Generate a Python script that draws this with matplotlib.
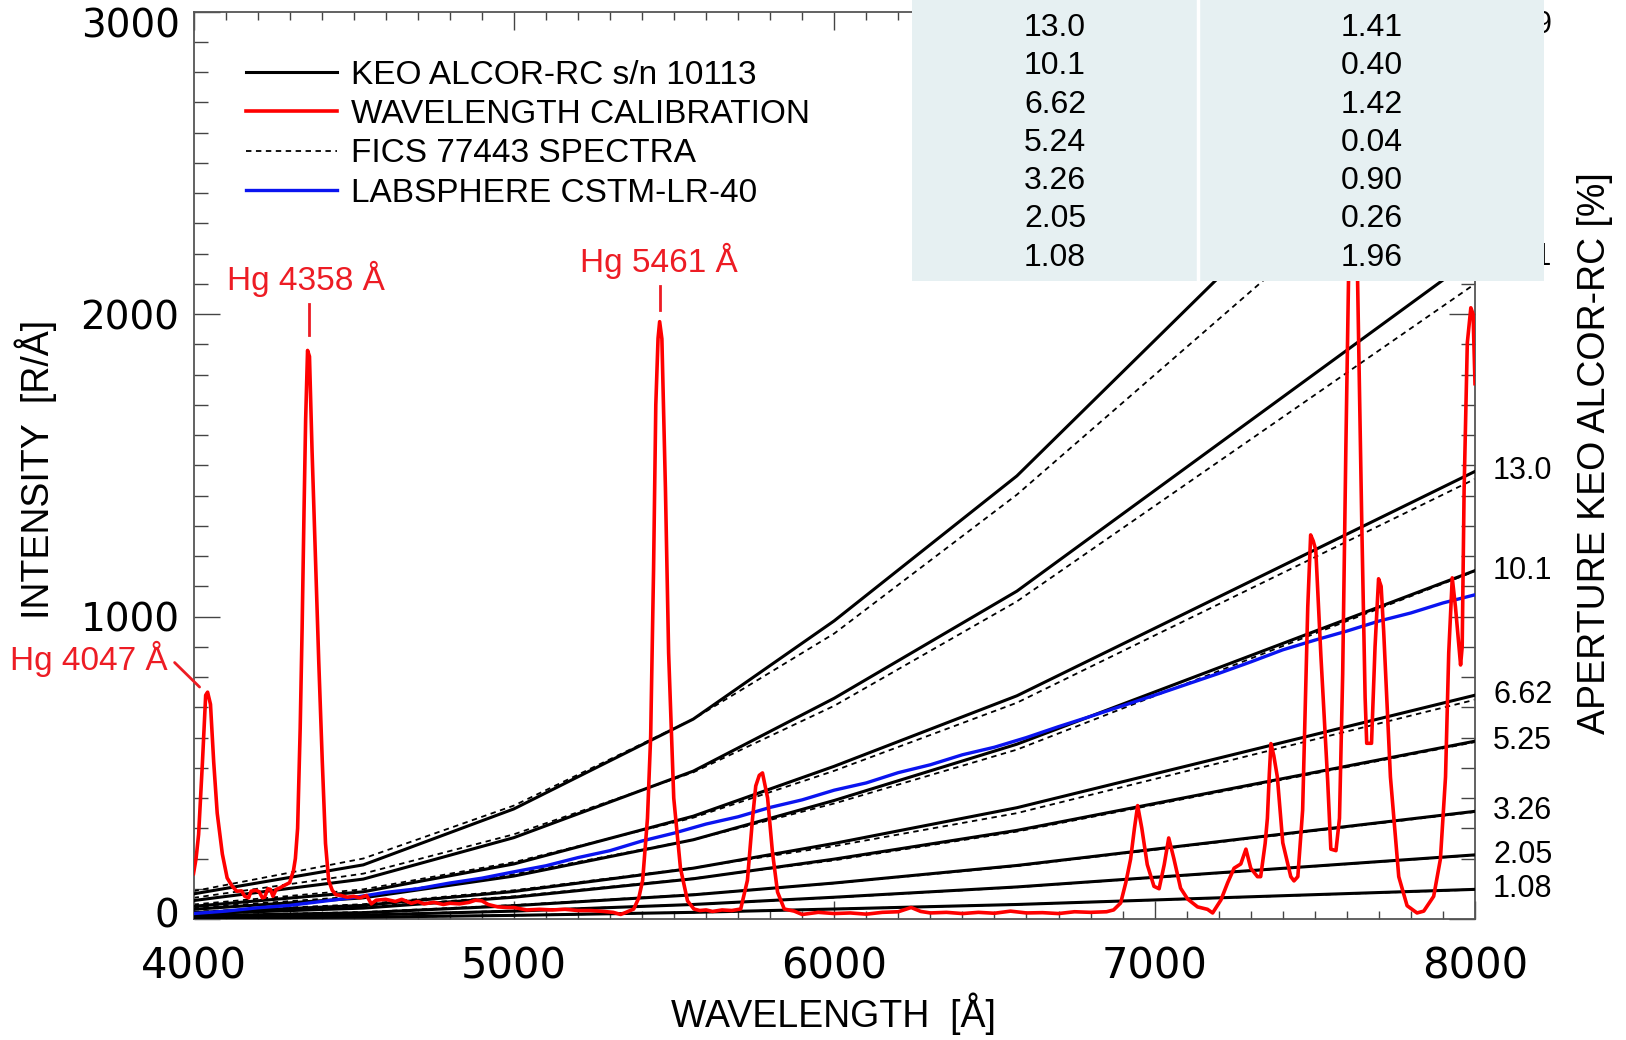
import matplotlib
matplotlib.use('Agg')
import matplotlib.pyplot as plt
import matplotlib.transforms as mtransforms
import numpy as np

# ---------------- data ----------------
knot_wl = [4000, 4530, 5000, 5560, 6000, 6570, 8000]
keo_curves = [
    [83, 179, 364, 661, 986, 1465, 2955],
    [61, 132, 269, 489, 730, 1084, 2190],
    [42, 90, 182, 340, 505, 738, 1480],
    [32, 70, 142, 262, 392, 578, 1152],
    [21, 45, 91, 168, 250, 368, 740],
    [17, 36, 72, 133, 198, 293, 588],
    [10, 21, 44, 80, 119, 177, 356],
    [6, 13, 26, 48, 72, 106, 212],
    [3, 6, 12, 22, 33, 48, 98],
]
fics_curves = [
    [92, 200, 375, 661, 944, 1403, 2720],
    [70, 150, 280, 485, 705, 1050, 2100],
    [48, 98, 188, 335, 490, 715, 1455],
    [37, 76, 148, 262, 382, 560, 1150],
    [24, 49, 95, 169, 241, 350, 725],
    [19, 39, 75, 134, 194, 289, 585],
    [11, 23, 46, 81, 118, 175, 354],
    [7, 14, 27, 48, 71, 105, 211],
    [3, 6, 12, 22, 33, 48, 97],
]
aperture_labels = ["25.9", "18.1", "13.0", "10.1", "6.62", "5.25", "3.26", "2.05", "1.08"]

blue_wl = [4000, 4100, 4200, 4300, 4400, 4500, 4600, 4700, 4800, 4900,
           5000, 5100, 5200, 5300, 5400, 5500, 5600, 5700, 5800, 5900,
           6000, 6100, 6200, 6300, 6400, 6500, 6600, 6700, 6800, 6900,
           7000, 7100, 7200, 7300, 7400, 7500, 7600, 7700, 7800, 7900, 8000]
blue_int = [18, 26, 37, 45, 58, 71, 88, 100, 119, 135,
            156, 176, 203, 226, 258, 284, 314, 338, 369, 394,
            426, 450, 484, 510, 543, 568, 600, 636, 670, 705,
            740, 776, 812, 850, 890, 922, 952, 985, 1012, 1045, 1072]

red_wl = [4000, 4008, 4016, 4028, 4038, 4044, 4053, 4063, 4074, 4090, 4105, 4121, 4135, 4150, 4160,
          4172, 4180, 4195, 4205, 4215, 4222, 4232, 4240, 4248, 4258, 4270, 4285, 4300, 4312, 4318,
          4325, 4333, 4339, 4345, 4350, 4356, 4362, 4370, 4381, 4391, 4402, 4412, 4422, 4433, 4445,
          4460, 4480, 4500, 4520, 4540, 4555, 4570, 4600, 4630, 4650, 4680, 4700, 4720, 4750, 4780,
          4800, 4830, 4860, 4880, 4900, 4920, 4950, 4980, 5000, 5040, 5080, 5120, 5160, 5200, 5240,
          5280, 5310, 5333, 5350, 5374, 5390, 5402, 5417, 5427, 5436, 5443, 5450, 5455, 5462, 5473,
          5483, 5499, 5520, 5542, 5562, 5580, 5600, 5620, 5650, 5680, 5708, 5729, 5745, 5755, 5766,
          5776, 5792, 5807, 5823, 5844, 5875, 5900, 5950, 6000, 6050, 6100, 6150, 6200, 6240, 6270,
          6300, 6350, 6400, 6450, 6500, 6550, 6600, 6650, 6700, 6750, 6800, 6850, 6872, 6894, 6910,
          6925, 6937, 6947, 6960, 6977, 6998, 7014, 7030, 7044, 7060, 7081, 7103, 7134, 7165, 7181,
          7207, 7228, 7248, 7269, 7285, 7300, 7321, 7331, 7345, 7352, 7358, 7363, 7372, 7383, 7400,
          7425, 7435, 7447, 7462, 7470, 7478, 7487, 7495, 7503, 7519, 7540, 7550, 7566, 7577, 7587,
          7597, 7605, 7612, 7620, 7628, 7637, 7647, 7657, 7662, 7677, 7688, 7699, 7707, 7715, 7736,
          7762, 7788, 7819, 7840, 7871, 7892, 7908, 7918, 7929, 7939, 7955, 7960, 7966, 7976, 7987,
          7994, 8000]
red_int = [150, 200, 280, 520, 740, 750, 710, 520, 350, 215, 136, 108, 92, 93, 75,
           70, 92, 95, 90, 70, 72, 100, 98, 75, 98, 103, 112, 120, 160, 200,
           300, 630, 960, 1350, 1650, 1880, 1860, 1550, 1180, 850, 520, 250, 127, 95, 80,
           78, 72, 75, 70, 78, 50, 62, 65, 58, 65, 52, 58, 50, 55, 48,
           52, 50, 55, 62, 60, 48, 40, 38, 38, 30, 32, 30, 32, 28, 28,
           25, 22, 15, 22, 33, 70, 128, 333, 605, 1155, 1700, 1920, 1975, 1918, 1426,
           880, 400, 168, 60, 33, 28, 30, 25, 30, 28, 33, 128, 333, 440, 475,
           483, 400, 222, 89, 33, 26, 15, 22, 18, 20, 16, 22, 24, 38, 25,
           20, 22, 18, 22, 19, 26, 20, 21, 18, 24, 22, 24, 30, 53, 120,
           198, 300, 375, 300, 180, 108, 100, 180, 268, 200, 102, 66, 40, 32, 20,
           63, 120, 168, 182, 231, 168, 140, 140, 250, 333, 480, 580, 540, 470, 252,
           140, 126, 140, 360, 700, 1032, 1270, 1250, 1220, 870, 460, 231, 226, 333, 810,
           1564, 2100, 2500, 2650, 2450, 1905, 1283, 733, 581, 581, 900, 1125, 1100, 950, 470,
           140, 44, 20, 26, 75, 198, 470, 880, 1128, 1032, 840, 900, 1420, 1905, 2021,
           2000, 1770]

hg_labels = ["Hg 4047 Å", "Hg 4358 Å", "Hg 5461 Å"]
table_aperture = ["13.0", "10.1", "6.62", "5.24", "3.26", "2.05", "1.08"]
table_error = ["1.41", "0.40", "1.42", "0.04", "0.90", "0.26", "1.96"]
legend_labels = ["KEO ALCOR-RC s/n 10113", "WAVELENGTH CALIBRATION",
                 "FICS 77443 SPECTRA", "LABSPHERE CSTM-LR-40"]

# ---------------- figure ----------------
W, H = 1626, 1040
fig = plt.figure(figsize=(W / 100, H / 100), dpi=100)
fig.patch.set_facecolor('white')
ax = fig.add_axes([193.5 / W, 1 - 919 / H, 1281.5 / W, 907.3 / H])

RED = '#ff0000'
TXTRED = '#ed1c24'
SANS = 'Liberation Sans'

fics_handle = None
for vals in fics_curves:
    h, = ax.plot(knot_wl, vals, color='black', lw=1.3, ls=(0, (3, 2.5)), zorder=2)
    if fics_handle is None:
        fics_handle = h
keo_handle = None
for vals in keo_curves:
    h, = ax.plot(knot_wl, vals, color='black', lw=2.2, zorder=3, solid_joinstyle='miter')
    if keo_handle is None:
        keo_handle = h
blue_handle, = ax.plot(blue_wl, blue_int, color='#0a14f0', lw=2.4, zorder=4)
red_handle, = ax.plot(red_wl, red_int, color=RED, lw=2.6, zorder=5)

ax.set_xlim(4000, 8000)
ax.set_ylim(0, 3000)
ax.set_xticks([4000, 5000, 6000, 7000, 8000])
ax.set_xticks(np.arange(4000, 8001, 100), minor=True)
ax.set_yticks([0, 1000, 2000, 3000])
ax.set_yticks(np.arange(0, 3001, 100), minor=True)
tc = '#444444'
ax.tick_params(axis='x', which='major', direction='in', length=13, width=1.0, top=True,
               labelsize=30, pad=19, color=tc)
ax.tick_params(axis='x', which='minor', direction='in', length=5.5, width=1.0, top=True, color=tc)
ax.tick_params(axis='y', which='major', direction='in', length=19, width=1.0, right=True,
               labelsize=28, pad=10, color=tc)
ax.tick_params(axis='y', which='minor', direction='in', length=10, width=1.0, right=True, color=tc)
for sp in ax.spines.values():
    sp.set_color('#555555')
    sp.set_linewidth(1.3)

# nudge the end labels of the y axis like the reference
yticks = ax.yaxis.get_major_ticks()
lab_top = yticks[-1].label1
lab_top.set_transform(lab_top.get_transform() +
                      mtransforms.ScaledTranslation(0, -0.11, fig.dpi_scale_trans))
lab_bot = yticks[0].label1
lab_bot.set_transform(lab_bot.get_transform() +
                      mtransforms.ScaledTranslation(0, 0.07, fig.dpi_scale_trans))

# aperture labels at right ends of the curves
for lbl, vals in zip(aperture_labels, keo_curves):
    ax.annotate(lbl, xy=(knot_wl[-1], vals[-1]), xytext=(13, 0), textcoords='offset points',
                ha='left', va='center', fontsize=22, family=SANS, annotation_clip=False)

# Hg line labels
ax.text(3919, 860, hg_labels[0], ha='right', va='center', color=TXTRED, fontsize=24, family=SANS)
ax.annotate('', xy=(4019, 767), xytext=(3941, 848),
            arrowprops=dict(arrowstyle='-', color=TXTRED, lw=2, shrinkA=0, shrinkB=0))
ax.text(4350, 2117, hg_labels[1], ha='center', va='center', color=TXTRED, fontsize=24, family=SANS)
ax.plot([4360, 4360], [1930, 2034], color=TXTRED, lw=2, zorder=6)
ax.text(5453, 2177, hg_labels[2], ha='center', va='center', color=TXTRED, fontsize=24, family=SANS)
ax.plot([5455, 5455], [2015, 2094], color=TXTRED, lw=2, zorder=6)

# legend
leg = ax.legend([keo_handle, red_handle, fics_handle, blue_handle], legend_labels,
                loc='upper left', bbox_to_anchor=(0.041, 0.947), frameon=False,
                prop={'family': SANS, 'size': 24}, handlelength=2.73, handletextpad=0.43,
                labelspacing=0.25, borderaxespad=0, borderpad=0)

# axis titles
fig.text(36 / W, 1 - 469 / H, 'INTENSITY  [R/Å]', rotation=90, ha='center', va='center',
         fontsize=27, family=SANS)
fig.text(833 / W, 1 - 1014 / H, 'WAVELENGTH  [Å]', ha='center', va='center',
         fontsize=27, family=SANS)
fig.text(1595 / W, 1 - 453 / H, 'APERTURE KEO ALCOR-RC [%]', rotation=90, ha='center',
         va='center', fontsize=27, family=SANS)

# overlay table
tx0, tx1, ty1 = 912, 1544, 281
tax = fig.add_axes([tx0 / W, 1 - ty1 / H, (tx1 - tx0) / W, ty1 / H])
tax.set_facecolor('#e6f0f2')
tax.set_xlim(0, 1)
tax.set_ylim(0, 1)
tax.set_xticks([])
tax.set_yticks([])
for sp in tax.spines.values():
    sp.set_visible(False)
tax.axvline((1198 - tx0) / (tx1 - tx0), color='white', lw=2.5)
c1 = (1055 - tx0) / (tx1 - tx0)
c2 = (1372 - tx0) / (tx1 - tx0)
for i, (a, e) in enumerate(zip(table_aperture, table_error)):
    yy = 1 - (28 + i * 38.3) / ty1
    tax.text(c1, yy, a, ha='center', va='center', fontsize=23, family=SANS)
    tax.text(c2, yy, e, ha='center', va='center', fontsize=23, family=SANS)

fig.savefig('out.png', dpi=100)
